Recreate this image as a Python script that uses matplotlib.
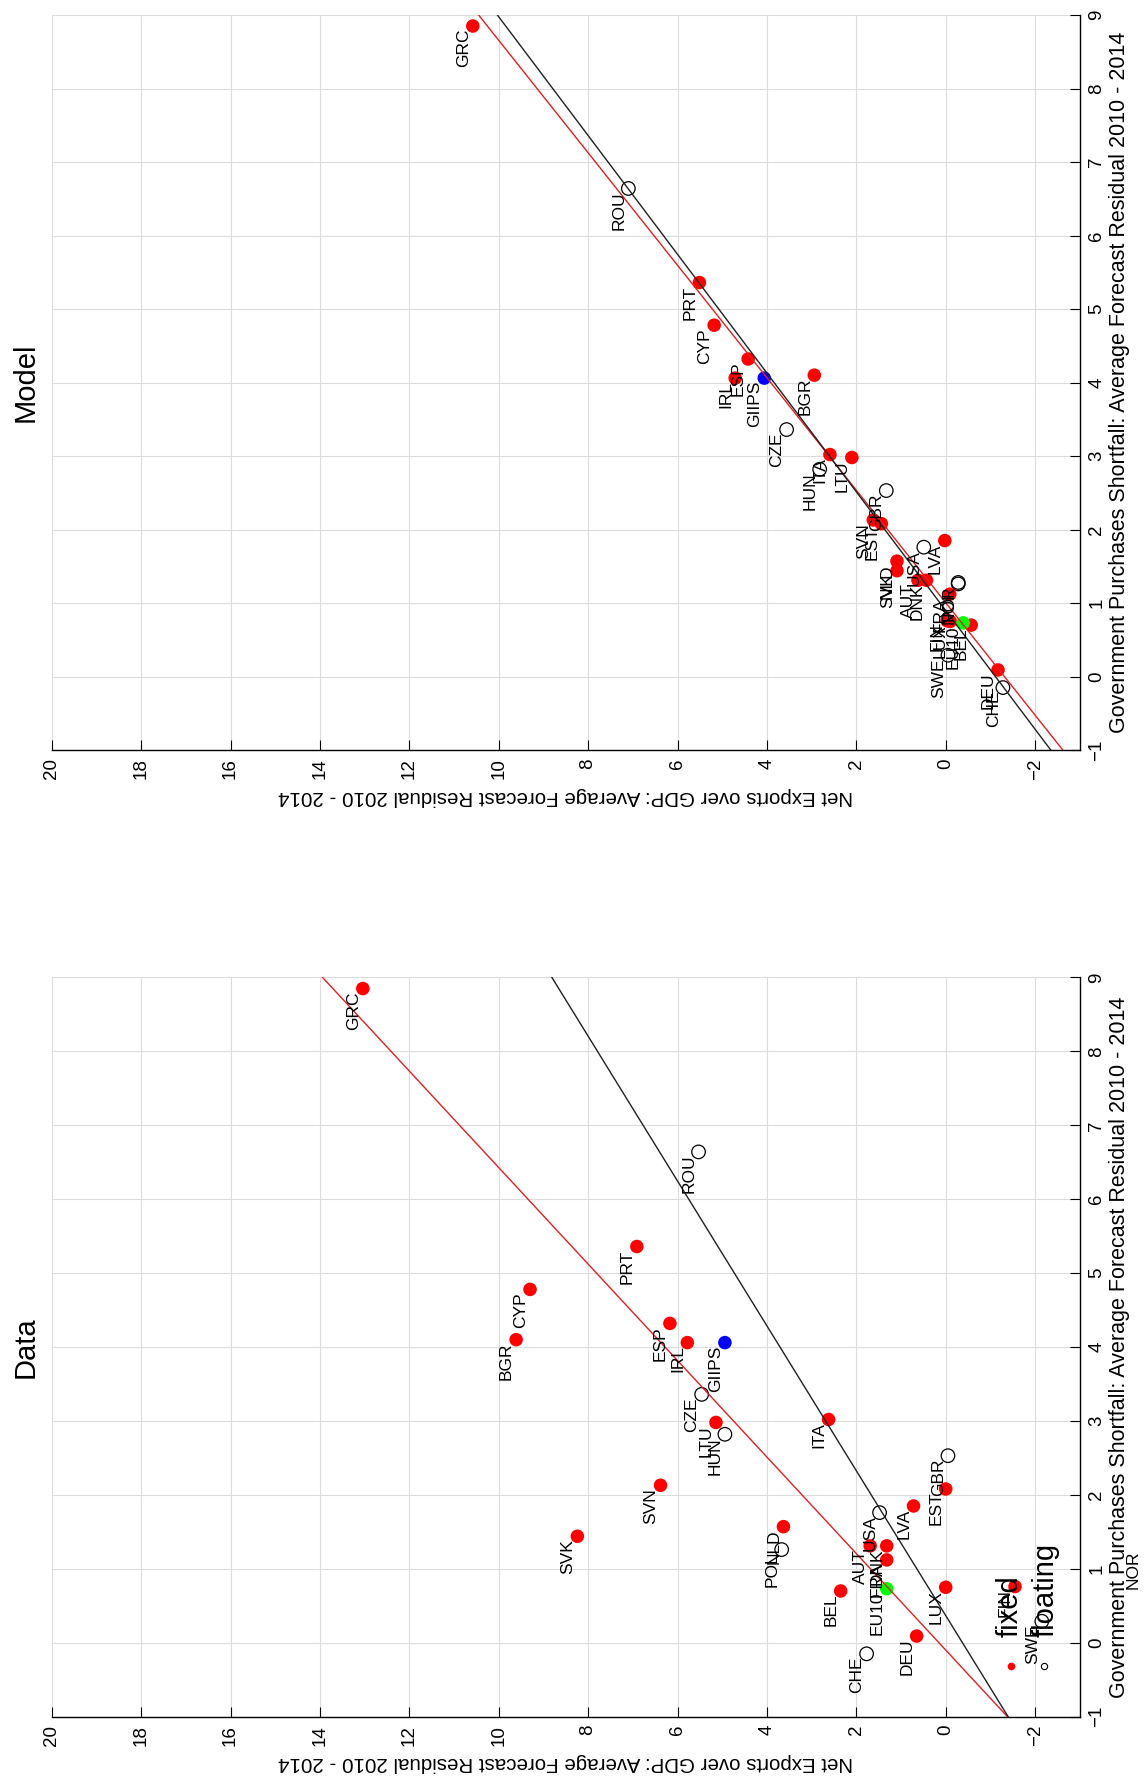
import matplotlib.pyplot as plt

plt.rcParams['font.family'] = ['Liberation Sans', 'DejaVu Sans']

# countries, government purchases shortfall (same in both panels) and net exports
countries = ['GRC', 'ROU', 'PRT', 'CYP', 'ESP', 'BGR', 'IRL', 'GIIPS', 'CZE', 'ITA',
             'LTU', 'HUN', 'GBR', 'SVN', 'EST', 'LVA', 'USA', 'NLD', 'SVK', 'POL',
             'AUT', 'DNK', 'NOR', 'FRA', 'FIN', 'LUX', 'EU10', 'BEL', 'SWE', 'DEU', 'CHE']
gov_shortfall = [8.85, 6.64, 5.36, 4.78, 4.32, 4.10, 4.06, 4.06, 3.36, 3.02,
                 2.98, 2.82, 2.53, 2.13, 2.08, 1.85, 1.76, 1.57, 1.44, 1.26,
                 1.31, 1.31, 1.28, 1.12, 0.76, 0.75, 0.73, 0.70, 0.29, 0.09, -0.15]
nx_data = [13.04, 5.53, 6.91, 9.30, 6.17, 9.61, 5.78, 4.94, 5.46, 2.62,
           5.14, 4.94, -0.05, 6.38, 0.00, 0.72, 1.48, 3.63, 8.24, 3.67,
           1.69, 1.32, -4.40, 1.32, -1.55, 0.00, 1.32, 2.35, -2.15, 0.65, 1.77]
nx_model = [10.58, 7.10, 5.51, 5.18, 4.42, 2.94, 4.71, 4.06, 3.56, 2.59,
            2.10, 2.82, 1.33, 1.62, 1.44, 0.02, 0.49, 1.09, 1.09, -0.28,
            0.62, 0.43, -0.28, -0.09, -0.03, -0.10, -0.39, -0.57, -0.05, -1.17, -1.28]
regime = ['fixed', 'floating', 'fixed', 'fixed', 'fixed', 'fixed', 'fixed', 'giips', 'floating', 'fixed',
          'fixed', 'floating', 'floating', 'fixed', 'fixed', 'fixed', 'floating', 'fixed', 'fixed', 'floating',
          'fixed', 'fixed', 'floating', 'fixed', 'fixed', 'fixed', 'eu10', 'fixed', 'floating', 'fixed', 'floating']

# fitted lines, read at the ends of the gov axis
fit_gov = [-1, 9]
data_fit_fixed = [-1.38, 13.94]
data_fit_floating = [-1.395, 8.81]
model_fit_fixed = [-2.62, 10.45]
model_fit_floating = [-2.35, 10.03]

nx_ticks = list(range(20, -3, -2))
gov_ticks = list(range(-1, 10))

XLABEL = 'Net Exports over GDP: Average Forecast Residual 2010 - 2014'
YLABEL = 'Government Purchases Shortfall: Average Forecast Residual 2010 - 2014'


def draw_panel(ax, nx, title, fit_fixed, fit_floating, legend=False):
    # figure is drawn turned by 90 degrees: net exports run right-to-left, gov runs upward
    ax.set_xlim(20, -3)
    ax.set_ylim(-1, 9)
    ax.set_xticks(nx_ticks)
    ax.set_yticks(gov_ticks)
    ax.grid(True, color='#dcdcdc', linewidth=0.8)
    ax.set_axisbelow(True)

    for side in ['top', 'left']:
        ax.spines[side].set_visible(False)
    for side in ['bottom', 'right']:
        ax.spines[side].set_linewidth(1.0)

    ax.yaxis.tick_right()
    ax.yaxis.set_label_position('right')
    ax.tick_params(axis='both', direction='in', length=7, width=0.8, labelsize=13.5)
    ax.tick_params(axis='x', pad=6, labelrotation=90)
    ax.tick_params(axis='y', pad=6, labelrotation=90)
    for lab in ax.get_yticklabels():
        lab.set_va('center')

    ax.set_xlabel(XLABEL, fontsize=14.8, rotation=180, labelpad=5)
    ax.set_ylabel(YLABEL, fontsize=15.5, rotation=90, labelpad=3)

    groups = [('floating', dict(facecolors='none', edgecolors='black', linewidths=0.9)),
              ('fixed', dict(c='#ff0000', edgecolors='none')),
              ('giips', dict(c='#0000ff', edgecolors='none')),
              ('eu10', dict(c='#00ff00', edgecolors='none'))]
    for name, style in groups:
        xs = [v for v, r in zip(nx, regime) if r == name]
        ys = [g for g, r in zip(gov_shortfall, regime) if r == name]
        ax.scatter(xs, ys, s=95, zorder=2, **style)

    ax.plot(fit_fixed, fit_gov, color='#e02020', linewidth=1.0, zorder=3)
    ax.plot(fit_floating, fit_gov, color='#202020', linewidth=1.0, zorder=3)

    for name, x, y in zip(countries, nx, gov_shortfall):
        ax.annotate(name, (x, y), xytext=(-1.5, -2), textcoords='offset points',
                    rotation=90, rotation_mode='anchor', ha='right', va='bottom',
                    fontsize=12.5, annotation_clip=False, zorder=4)

    ax.text(-0.025, 0.5, title, transform=ax.transAxes, rotation=90,
            ha='center', va='center', fontsize=21)

    if legend:
        ax.plot([0.933], [0.0686], 'o', color='#ff0000', markersize=4.5,
                transform=ax.transAxes, clip_on=False, zorder=5)
        ax.plot([0.965], [0.0686], 'o', markerfacecolor='none', markeredgecolor='black',
                markeredgewidth=0.8, markersize=4.5, transform=ax.transAxes,
                clip_on=False, zorder=5)
        ax.text(0.932, 0.108, 'fixed', transform=ax.transAxes, rotation=90,
                rotation_mode='anchor', ha='left', va='center', fontsize=21, zorder=5)
        ax.text(0.967, 0.108, 'floating', transform=ax.transAxes, rotation=90,
                rotation_mode='anchor', ha='left', va='center', fontsize=21, zorder=5)


fig = plt.figure(figsize=(11.44, 17.85), dpi=100)
ax_model = fig.add_axes([0.0452, 0.5798, 0.8987, 0.4118])
ax_data = fig.add_axes([0.0452, 0.0383, 0.8987, 0.4141])

draw_panel(ax_model, nx_model, 'Model', model_fit_fixed, model_fit_floating)
draw_panel(ax_data, nx_data, 'Data', data_fit_fixed, data_fit_floating, legend=True)

fig.savefig('out.png', dpi=100)
